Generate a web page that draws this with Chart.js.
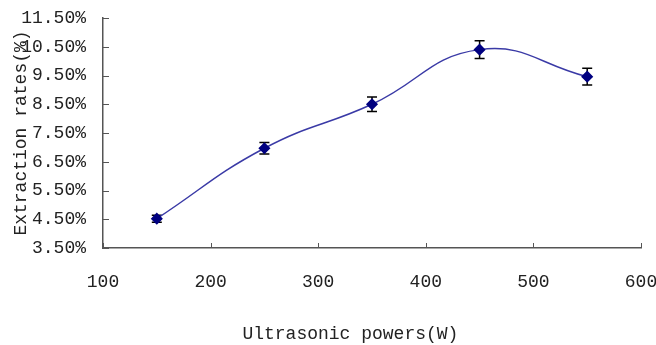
<!DOCTYPE html>
<html>
<head>
<meta charset="utf-8">
<script src="https://cdn.jsdelivr.net/npm/chart.js@4/dist/chart.umd.min.js"></script>
<style>
  html, body { margin: 0; padding: 0; background: #fff; }
  #wrap { width: 656px; height: 345px; }
</style>
</head>
<body>
<div id="wrap"><canvas id="chart" width="656" height="345"></canvas></div>
<script>
// data
const powers = [150, 250, 350, 450, 550];
const rates = [4.52, 6.97, 8.50, 10.40, 9.46];
const errors = [0.12, 0.20, 0.25, 0.31, 0.29];
const xTicks = [100, 200, 300, 400, 500, 600];
const yTicks = [3.5, 4.5, 5.5, 6.5, 7.5, 8.5, 9.5, 10.5, 11.5];

const font = { family: 'Liberation Mono', size: 18 };
const textColor = '#222';
const axisColor = '#555';

// vertical error bars with caps, drawn under the markers
const errorBars = {
    id: 'errorBars',
    beforeDatasetsDraw(chart) {
        const ctx = chart.ctx;
        const xs = chart.scales.x, ys = chart.scales.y;
        ctx.save();
        ctx.strokeStyle = '#000';
        ctx.lineWidth = 1.5;
        powers.forEach((p, i) => {
            const x = xs.getPixelForValue(p);
            const y1 = ys.getPixelForValue(rates[i] + errors[i]);
            const y2 = ys.getPixelForValue(rates[i] - errors[i]);
            ctx.beginPath();
            ctx.moveTo(x, y1); ctx.lineTo(x, y2);
            ctx.moveTo(x - 5, y1); ctx.lineTo(x + 5, y1);
            ctx.moveTo(x - 5, y2); ctx.lineTo(x + 5, y2);
            ctx.stroke();
        });
        ctx.restore();
    }
};

// tick marks pointing into the plot, Excel style
const innerTicks = {
    id: 'innerTicks',
    afterDraw(chart) {
        const ctx = chart.ctx;
        const xs = chart.scales.x, ys = chart.scales.y;
        const a = chart.chartArea;
        ctx.save();
        ctx.strokeStyle = axisColor;
        ctx.lineWidth = 1;
        ctx.beginPath();
        xTicks.forEach(v => {
            const x = Math.round(xs.getPixelForValue(v)) + 0.5;
            ctx.moveTo(x, a.bottom); ctx.lineTo(x, a.bottom - 5);
        });
        yTicks.forEach(v => {
            const y = Math.round(ys.getPixelForValue(v)) + 0.5;
            ctx.moveTo(a.left, y); ctx.lineTo(a.left + 6, y);
        });
        ctx.stroke();
        ctx.restore();
    }
};

new Chart(document.getElementById('chart'), {
    type: 'scatter',
    data: {
        datasets: [{
            data: powers.map((p, i) => ({ x: p, y: rates[i] })),
            showLine: true,
            tension: 0.45,
            borderColor: '#3a3aa6',
            borderWidth: 1.5,
            pointStyle: 'rectRot',
            pointRadius: 5,
            pointBackgroundColor: '#000080',
            pointBorderColor: '#000080'
        }]
    },
    options: {
        responsive: false,
        animation: false,
        layout: { padding: { top: 18, right: 15, left: 0, bottom: 0 } },
        plugins: { legend: { display: false }, tooltip: { enabled: false } },
        scales: {
            x: {
                type: 'linear',
                min: 100, max: 600,
                afterBuildTicks: s => { s.ticks = xTicks.map(v => ({ value: v })); },
                afterFit: s => { s.height = 97; s.paddingLeft = 0; s.paddingRight = 0; },
                grid: { display: false, drawTicks: false },
                border: { color: axisColor, width: 1.5 },
                ticks: { font: font, color: textColor, padding: 23, maxRotation: 0 },
                title: {
                    display: true,
                    // trailing spaces nudge the title left, as in the original
                    text: 'Ultrasonic powers(W)    ',
                    font: font, color: textColor,
                    padding: { top: 0, bottom: 0 }
                }
            },
            y: {
                min: 3.5, max: 11.5,
                afterBuildTicks: s => { s.ticks = yTicks.map(v => ({ value: v })); },
                afterFit: s => { s.width = 103; s.paddingTop = 0; s.paddingBottom = 0; },
                grid: { display: false, drawTicks: false },
                border: { color: axisColor, width: 1.5 },
                ticks: {
                    font: font, color: textColor, padding: 17,
                    callback: v => v.toFixed(2) + '%'
                },
                title: {
                    display: true,
                    text: 'Extraction rates(%)',
                    font: font, color: textColor,
                    padding: { top: 10, bottom: 0 }
                }
            }
        }
    },
    plugins: [errorBars, innerTicks]
});
</script>
</body>
</html>
